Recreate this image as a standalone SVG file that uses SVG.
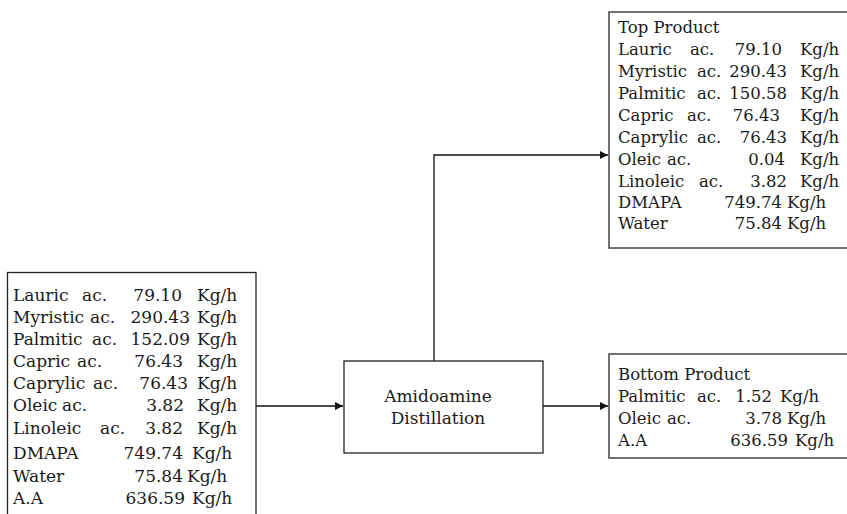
<svg xmlns="http://www.w3.org/2000/svg" width="847" height="514" viewBox="0 0 847 514">
<style>
  text { font-family: "DejaVu Serif", "Liberation Serif", serif; font-size: 17px; fill: #1a1a1a; }
  .p text { font-size: 16.5px; }
  .box { fill: #ffffff; stroke: #222; stroke-width: 1.3; }
  .pbox { fill: #ffffff; stroke: #444; stroke-width: 1.5; }
  .n { text-anchor: end; }
  .c { text-anchor: middle; }
  .line { fill: none; stroke: #111; stroke-width: 1.3; }
</style>
<defs>
  <marker id="arrow" viewBox="0 0 10 10" refX="10" refY="5" markerWidth="10" markerHeight="8" markerUnits="userSpaceOnUse" orient="auto">
    <path d="M0,0 L10,5 L0,10 z" fill="#111"/>
  </marker>
</defs>

<g id="connectors">
  <line class="line" x1="256" y1="406" x2="343" y2="406" marker-end="url(#arrow)"/>
  <line class="line" x1="543" y1="406" x2="608" y2="406" marker-end="url(#arrow)"/>
  <polyline class="line" points="434,361 434,155 608,155" marker-end="url(#arrow)"/>
</g>

<g id="feed">
  <rect class="box" x="7.5" y="272.5" width="248.5" height="260"/>
  <text x="13" y="301">Lauric<tspan x="82">ac.</tspan></text><text class="n" x="182" y="301">79.10</text><text x="197" y="301">Kg/h</text>
  <text x="13" y="323">Myristic<tspan x="90">ac.</tspan></text><text class="n" x="190" y="323">290.43</text><text x="197" y="323">Kg/h</text>
  <text x="13" y="345">Palmitic<tspan x="92">ac.</tspan></text><text class="n" x="190" y="345">152.09</text><text x="197" y="345">Kg/h</text>
  <text x="13" y="367">Capric<tspan x="77">ac.</tspan></text><text class="n" x="183" y="367">76.43</text><text x="197" y="367">Kg/h</text>
  <text x="13" y="389">Caprylic<tspan x="93">ac.</tspan></text><text class="n" x="188" y="389">76.43</text><text x="197" y="389">Kg/h</text>
  <text x="13" y="411">Oleic<tspan x="62">ac.</tspan></text><text class="n" x="184" y="411">3.82</text><text x="197" y="411">Kg/h</text>
  <text x="13" y="434">Linoleic<tspan x="100">ac.</tspan></text><text class="n" x="183" y="434">3.82</text><text x="197" y="434">Kg/h</text>
  <text x="13" y="459">DMAPA</text><text class="n" x="183" y="459">749.74</text><text x="192" y="459">Kg/h</text>
  <text x="13" y="482">Water</text><text class="n" x="183" y="482">75.84</text><text x="187" y="482">Kg/h</text>
  <text x="13" y="504">A.A</text><text class="n" x="185" y="504">636.59</text><text x="192" y="504">Kg/h</text>
</g>

<g id="distillation">
  <rect class="box" x="344" y="361" width="199" height="92"/>
  <text class="c" x="438" y="402">Amidoamine</text>
  <text class="c" x="438" y="424">Distillation</text>
</g>

<g id="top-product" class="p">
  <rect class="pbox" x="609" y="12" width="260" height="236"/>
  <text x="618" y="33">Top Product</text>
  <text x="618" y="55">Lauric<tspan x="690">ac.</tspan></text><text class="n" x="782" y="55">79.10</text><text x="800" y="55">Kg/h</text>
  <text x="618" y="77">Myristic<tspan x="697">ac.</tspan></text><text class="n" x="787" y="77">290.43</text><text x="800" y="77">Kg/h</text>
  <text x="618" y="99">Palmitic<tspan x="697">ac.</tspan></text><text class="n" x="787" y="99">150.58</text><text x="800" y="99">Kg/h</text>
  <text x="618" y="121">Capric<tspan x="687">ac.</tspan></text><text class="n" x="780" y="121">76.43</text><text x="800" y="121">Kg/h</text>
  <text x="618" y="143">Caprylic<tspan x="697">ac.</tspan></text><text class="n" x="787" y="143">76.43</text><text x="800" y="143">Kg/h</text>
  <text x="618" y="165">Oleic<tspan x="667">ac.</tspan></text><text class="n" x="785" y="165">0.04</text><text x="800" y="165">Kg/h</text>
  <text x="618" y="187">Linoleic<tspan x="699">ac.</tspan></text><text class="n" x="787" y="187">3.82</text><text x="800" y="187">Kg/h</text>
  <text x="618" y="208">DMAPA</text><text class="n" x="782" y="208">749.74</text><text x="787" y="208">Kg/h</text>
  <text x="618" y="229">Water</text><text class="n" x="782" y="229">75.84</text><text x="787" y="229">Kg/h</text>
</g>

<g id="bottom-product" class="p">
  <rect class="pbox" x="609" y="354" width="260" height="104"/>
  <text x="618" y="380">Bottom Product</text>
  <text x="618" y="402">Palmitic<tspan x="697">ac.</tspan></text><text class="n" x="772" y="402">1.52</text><text x="780" y="402">Kg/h</text>
  <text x="618" y="424">Oleic<tspan x="667">ac.</tspan></text><text class="n" x="782" y="424">3.78</text><text x="787" y="424">Kg/h</text>
  <text x="618" y="446">A.A</text><text class="n" x="788" y="446">636.59</text><text x="795" y="446">Kg/h</text>
</g>
</svg>
